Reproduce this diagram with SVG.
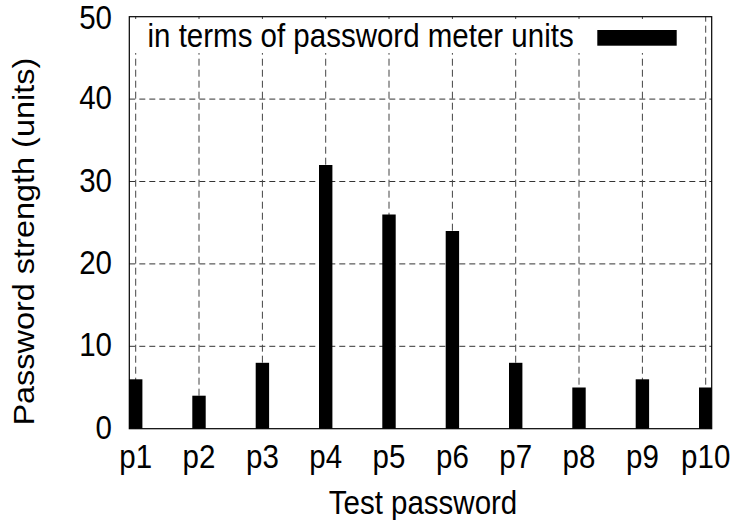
<svg xmlns="http://www.w3.org/2000/svg" width="731" height="520" viewBox="0 0 731 520">
<style>
.t{font-family:"Liberation Sans",Arial,Helvetica,sans-serif;font-size:29.5px;fill:#000}
.gh{stroke:#333;stroke-width:1;stroke-dasharray:6,4;fill:none}
.gv{stroke:#444;stroke-width:1;stroke-dasharray:7,4;fill:none}
.bar{fill:#000}
</style>
<rect width="731" height="520" fill="#fff"/>
<g id="grid">
<line class="gh" x1="129.3" y1="346.3" x2="711.7" y2="346.3"/>
<line class="gh" x1="129.3" y1="263.9" x2="711.7" y2="263.9"/>
<line class="gh" x1="129.3" y1="181.5" x2="711.7" y2="181.5"/>
<line class="gh" x1="129.3" y1="99.1" x2="711.7" y2="99.1"/>
<line class="gv" x1="135.7" y1="428.7" x2="135.7" y2="16.7"/>
<line class="gv" x1="199" y1="428.7" x2="199" y2="16.7"/>
<line class="gv" x1="262.4" y1="428.7" x2="262.4" y2="16.7"/>
<line class="gv" x1="325.7" y1="428.7" x2="325.7" y2="16.7"/>
<line class="gv" x1="389" y1="428.7" x2="389" y2="16.7"/>
<line class="gv" x1="452.4" y1="428.7" x2="452.4" y2="16.7"/>
<line class="gv" x1="515.7" y1="428.7" x2="515.7" y2="16.7"/>
<line class="gv" x1="579" y1="428.7" x2="579" y2="16.7"/>
<line class="gv" x1="642.4" y1="428.7" x2="642.4" y2="16.7"/>
<line class="gv" x1="705.7" y1="428.7" x2="705.7" y2="16.7"/>
</g>
<g id="legend">
<rect x="132" y="19" width="565" height="34" fill="#fff"/>
<text class="t" transform="translate(147.5,46.7) scale(1,1.1)">in terms of password meter units</text>
<rect class="bar" x="597.3" y="30" width="79.4" height="15.7"/>
</g>
<g id="bars">
<rect class="bar" x="129" y="379.3" width="13.4" height="49.4"/>
<rect class="bar" x="192.3" y="395.7" width="13.4" height="33"/>
<rect class="bar" x="255.7" y="362.8" width="13.4" height="65.9"/>
<rect class="bar" x="319" y="165" width="13.4" height="263.7"/>
<rect class="bar" x="382.3" y="214.5" width="13.4" height="214.2"/>
<rect class="bar" x="445.7" y="231" width="13.4" height="197.7"/>
<rect class="bar" x="509" y="362.8" width="13.4" height="65.9"/>
<rect class="bar" x="572.3" y="387.5" width="13.4" height="41.2"/>
<rect class="bar" x="635.7" y="379.3" width="13.4" height="49.4"/>
<rect class="bar" x="699" y="387.5" width="12.7" height="41.2"/>
</g>
<g id="frame">
<rect x="129.3" y="16.7" width="582.4" height="412" fill="none" stroke="#000" stroke-width="1.2"/>
</g>
<g id="yticks" text-anchor="end">
<text class="t" transform="translate(112,438.7) scale(1,1.1)">0</text>
<text class="t" transform="translate(112,356.3) scale(1,1.1)">10</text>
<text class="t" transform="translate(112,273.9) scale(1,1.1)">20</text>
<text class="t" transform="translate(112,191.5) scale(1,1.1)">30</text>
<text class="t" transform="translate(112,109.1) scale(1,1.1)">40</text>
<text class="t" transform="translate(112,28.5) scale(1,1.1)">50</text>
</g>
<g id="xticks" text-anchor="middle">
<text class="t" transform="translate(135.7,468) scale(1,1.1)">p1</text>
<text class="t" transform="translate(199,468) scale(1,1.1)">p2</text>
<text class="t" transform="translate(262.4,468) scale(1,1.1)">p3</text>
<text class="t" transform="translate(325.7,468) scale(1,1.1)">p4</text>
<text class="t" transform="translate(389,468) scale(1,1.1)">p5</text>
<text class="t" transform="translate(452.4,468) scale(1,1.1)">p6</text>
<text class="t" transform="translate(515.7,468) scale(1,1.1)">p7</text>
<text class="t" transform="translate(579,468) scale(1,1.1)">p8</text>
<text class="t" transform="translate(642.4,468) scale(1,1.1)">p9</text>
<text class="t" transform="translate(705.7,468) scale(1,1.1)">p10</text>
</g>
<g id="labels" text-anchor="middle">
<text class="t" transform="translate(423,514) scale(1,1.1)">Test password</text>
<text class="t" transform="translate(33.5,241.7) rotate(-90) scale(1.1,1)">Password strength (units)</text>
</g>
</svg>
